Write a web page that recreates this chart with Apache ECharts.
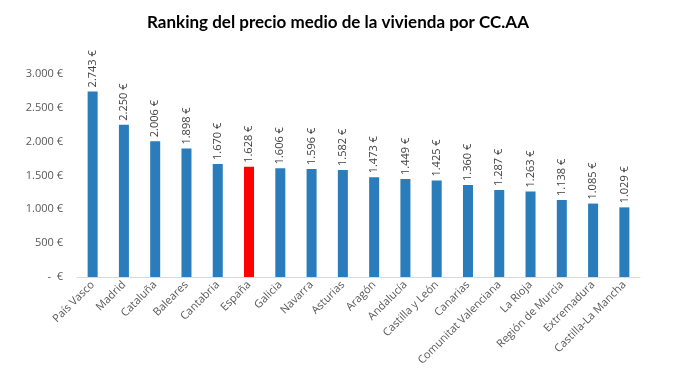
<!DOCTYPE html>
<html><head><meta charset="utf-8">
<script src="https://cdn.jsdelivr.net/npm/echarts@6/dist/echarts.min.js"></script>
<style>html,body{margin:0;padding:0;background:#fff}#c{width:676px;height:378px}</style>
</head><body><div id="c"></div>
<script>
const categories = ["País Vasco","Madrid","Cataluña","Baleares","Cantabria","España","Galicia","Navarra","Asturias","Aragón","Andalucía","Castilla y León","Canarias","Comunitat Valenciana","La Rioja","Región de Murcia","Extremadura","Castilla-La Mancha"];
const values = [2743,2250,2006,1898,1670,1628,1606,1596,1582,1473,1449,1425,1360,1287,1263,1138,1085,1029];
const highlight = "España";
const yTicks = {min:0, max:3000, interval:500};

function fmt(v){
  if (v === 0) return "-  €";
  return String(v).replace(/\B(?=(\d{3})+(?!\d))/g, ".") + " €";
}
const chart = echarts.init(document.getElementById('c'));
chart.setOption({
  animation:false,
  title:{text:"Ranking del precio medio de la vivienda por CC.AA", left:'center', top:9,
    textStyle:{fontFamily:'Lato', fontWeight:'bold', fontSize:17, color:'#000'}},
  grid:{left:77, right:36, top:74, bottom:101},
  xAxis:{type:'category', data:categories,
    axisLine:{lineStyle:{color:'#d9d9d9'}}, axisTick:{show:false},
    axisLabel:{interval:0, rotate:45, color:'#595959', fontSize:11, fontFamily:'Open Sans', margin:6}},
  yAxis:{type:'value', min:yTicks.min, max:yTicks.max, interval:yTicks.interval,
    splitLine:{show:false}, axisLine:{show:false}, axisTick:{show:false},
    axisLabel:{color:'#595959', fontSize:11, fontFamily:'Open Sans', formatter:fmt, margin:14}},
  series:[{type:'bar', barWidth:'32%',
    data: values.map((v,i)=>({value:v, itemStyle:{color: categories[i]===highlight ? '#ff0000' : '#2a7dba'}})),
    label:{show:true, position:'top', rotate:90, align:'left', verticalAlign:'middle', distance:4,
      color:'#404040', fontSize:11, fontFamily:'Open Sans', formatter:p=>fmt(p.value)}}]
});
</script></body></html>
